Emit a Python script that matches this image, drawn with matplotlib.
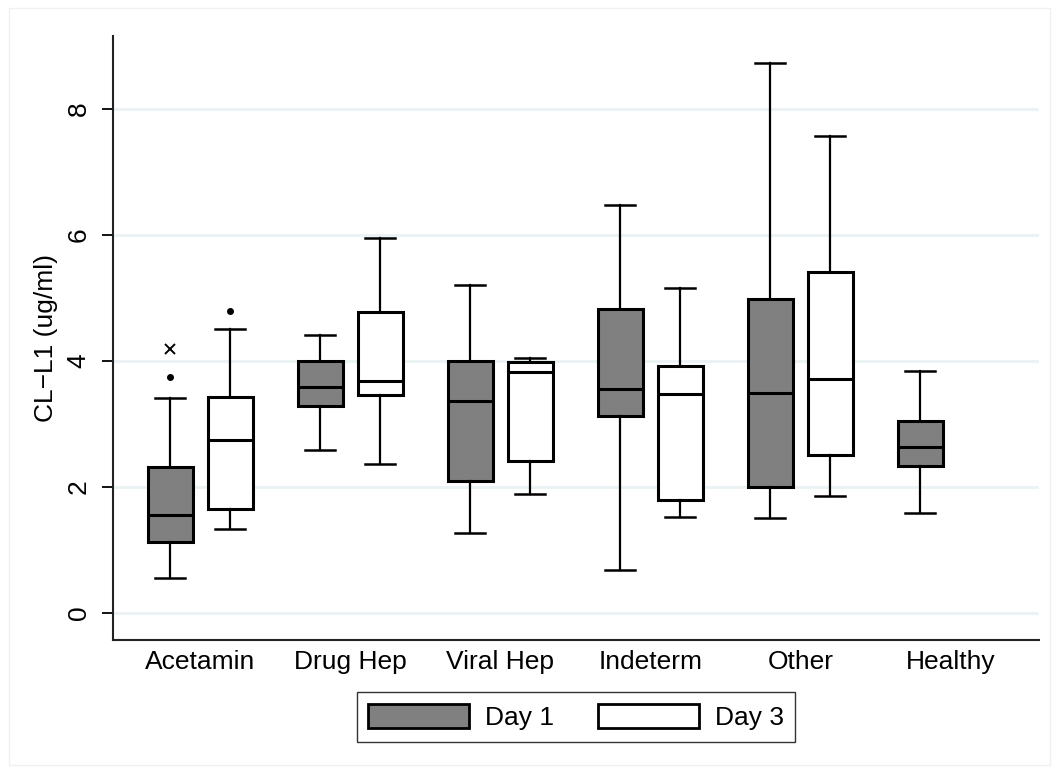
import numpy as np
import matplotlib.pyplot as plt
from matplotlib.patches import Patch, Rectangle

plt.rcParams['font.family'] = ['Liberation Sans', 'DejaVu Sans']

groups = ["Acetamin", "Drug Hep", "Viral Hep", "Indeterm", "Other", "Healthy"]

# five-number summaries per group: low whisker, q1, median, q3, high whisker
day1_low = [0.56, 2.59, 1.27, 0.68, 1.50, 1.59]
day1_q1 = [1.12, 3.28, 2.09, 3.13, 2.00, 2.33]
day1_med = [1.55, 3.59, 3.36, 3.56, 3.49, 2.63]
day1_q3 = [2.31, 4.00, 4.00, 4.83, 4.98, 3.05]
day1_high = [3.41, 4.42, 5.21, 6.48, 8.73, 3.84]

day3_low = [1.33, 2.37, 1.89, 1.53, 1.86]
day3_q1 = [1.65, 3.46, 2.42, 1.80, 2.50]
day3_med = [2.74, 3.68, 3.83, 3.48, 3.72]
day3_q3 = [3.43, 4.78, 3.98, 3.92, 5.42]
day3_high = [4.50, 5.96, 4.04, 5.16, 7.58]

# outside values
day1_out = {0: [3.74]}
day3_out = {0: [4.80]}
day1_extreme = {0: [4.19]}

def make_stats(low, q1, med, q3, high, out):
    stats = []
    for i in range(len(med)):
        stats.append(dict(whislo=low[i], q1=q1[i], med=med[i], q3=q3[i],
                          whishi=high[i], fliers=out.get(i, [])))
    return stats

fig = plt.figure(figsize=(10.6, 7.73), dpi=100)
fig.patches.append(Rectangle((9/1060, 1-765/773), 1041/1060, 757/773,
                             transform=fig.transFigure, fill=False,
                             edgecolor='#f0f0f0', linewidth=1.0))
ax = fig.add_axes([113/1060, 1-640/773, (1039-113)/1060, (640-36)/773])

x = np.arange(len(groups))
off = 0.2
common = dict(widths=0.3, patch_artist=True, showfliers=True,
              whiskerprops=dict(color='black', linewidth=1.6),
              capprops=dict(color='black', linewidth=1.8),
              medianprops=dict(color='black', linewidth=2.2),
              flierprops=dict(marker='o', markerfacecolor='black',
                              markeredgecolor='black', markersize=4))

b1 = ax.bxp(make_stats(day1_low, day1_q1, day1_med, day1_q3, day1_high, day1_out),
            positions=x - off, **common)
b3 = ax.bxp(make_stats(day3_low, day3_q1, day3_med, day3_q3, day3_high, day3_out),
            positions=x[:len(day3_med)] + off, **common)
for b in b1['boxes']:
    b.set_facecolor('#808080')
    b.set_edgecolor('black')
    b.set_linewidth(2.2)
for b in b3['boxes']:
    b.set_facecolor('white')
    b.set_edgecolor('black')
    b.set_linewidth(2.2)
for cap in b1['caps'] + b3['caps']:
    xd = cap.get_xdata()
    c = np.mean(xd)
    cap.set_xdata([c - 0.1, c + 0.1])

for i, vals in day1_extreme.items():
    ax.plot([x[i] - off] * len(vals), vals, 'x', color='black',
            markersize=7, markeredgewidth=1.4)

ax.set_xlim(-0.58, 5.59)
ax.set_ylim(-0.43, 9.16)
ax.set_yticks([0, 2, 4, 6, 8])
ax.set_yticklabels(['0', '2', '4', '6', '8'], rotation=90, va='center')
ax.set_xticks(x)
ax.set_xticklabels(groups)
ax.tick_params(axis='x', length=0, labelsize=19, pad=7)
ax.tick_params(axis='y', length=8, width=1.3, labelsize=19, pad=8)
ax.grid(axis='y', color='#eaf2f3', linewidth=2)
ax.set_axisbelow(True)
for s in ['top', 'right']:
    ax.spines[s].set_visible(False)
for s in ['left', 'bottom']:
    ax.spines[s].set_linewidth(1.5)
    ax.spines[s].set_color('#222222')
ax.set_ylabel('CL\u2212L1 (ug/ml)', fontsize=19, labelpad=6)

handles = [Patch(facecolor='#808080', edgecolor='black', linewidth=2, label='Day 1'),
           Patch(facecolor='white', edgecolor='black', linewidth=2, label='Day 3')]
fig.legend(handles=handles, loc='center', bbox_to_anchor=(576/1060, 1-717/773),
           ncol=2, fontsize=19, frameon=True, fancybox=False, edgecolor='black',
           handlelength=3.8, handleheight=1.05, columnspacing=1.7,
           borderpad=0.45, handletextpad=0.6)

plt.savefig('out.png', dpi=100)
